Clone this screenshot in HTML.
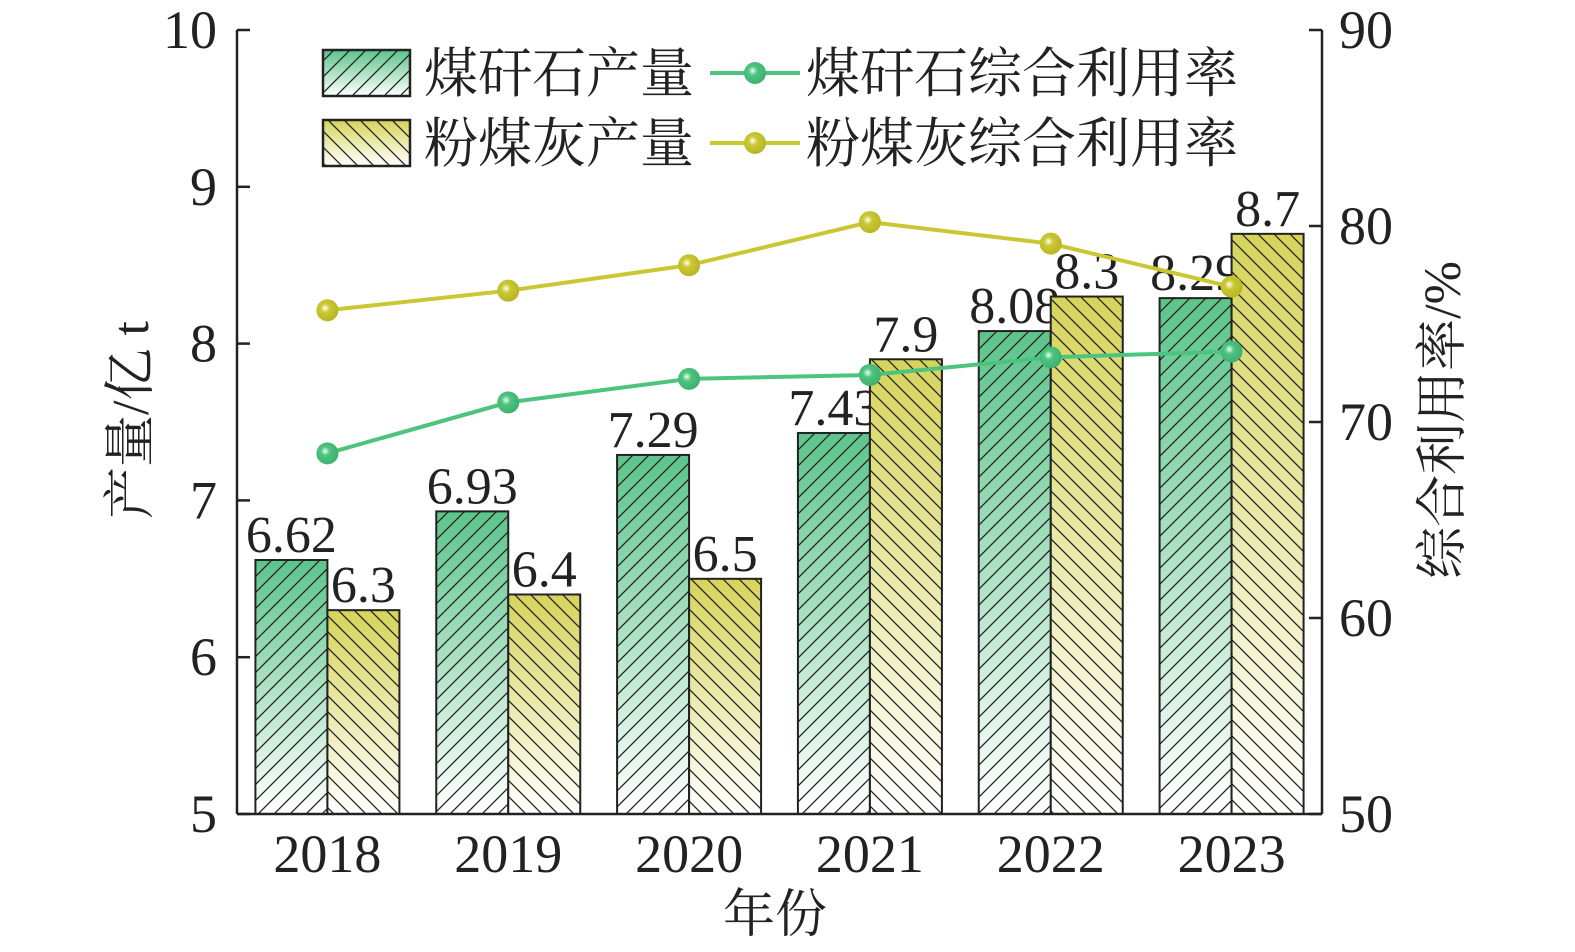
<!DOCTYPE html>
<html><head><meta charset="utf-8"><style>
body{margin:0;background:#fff}
svg text{font-family:"Liberation Serif","Noto Serif CJK SC",serif;fill:#222}
</style></head><body>
<svg id="c" width="1575" height="947" xmlns="http://www.w3.org/2000/svg">
<defs>
<linearGradient id="gG" x1="0" y1="0" x2="0" y2="1"><stop offset="0" stop-color="#5cc48a"/><stop offset="1" stop-color="#ffffff"/></linearGradient>
<linearGradient id="gY" x1="0" y1="0" x2="0" y2="1"><stop offset="0" stop-color="#d6d45a"/><stop offset="1" stop-color="#ffffff"/></linearGradient>
<pattern id="hF" width="16" height="16" patternUnits="userSpaceOnUse"><path d="M-4,4 L4,-4 M0,16 L16,0 M12,20 L20,12" stroke="#222" stroke-width="1.3"/></pattern>
<pattern id="hB" width="16" height="16" patternUnits="userSpaceOnUse"><path d="M-4,12 L4,20 M0,0 L16,16 M12,-4 L20,4" stroke="#222" stroke-width="1.3"/></pattern>
<radialGradient id="mG" cx="0.4" cy="0.4" r="0.6"><stop offset="0" stop-color="#e8fff0"/><stop offset="0.35" stop-color="#4cc47e"/><stop offset="1" stop-color="#3fb070"/></radialGradient>
<radialGradient id="mY" cx="0.4" cy="0.4" r="0.6"><stop offset="0" stop-color="#fffff0"/><stop offset="0.35" stop-color="#cac832"/><stop offset="1" stop-color="#b8b626"/></radialGradient>
</defs>
<g id="plot"></g>
</svg>
<script>
const years=["2018","2019","2020","2021","2022","2023"];
const gangueOut=[6.62,6.93,7.29,7.43,8.08,8.29];
const ashOut=[6.3,6.4,6.5,7.9,8.3,8.7];
const gangueRate=[68.4,71.0,72.2,72.4,73.3,73.6];
const ashRate=[75.7,76.7,78.0,80.2,79.1,76.9];
const leftTicks=[5,6,7,8,9,10];
const rightTicks=[50,60,70,80,90];

const NS="http://www.w3.org/2000/svg";
const L=237,R=1322,T=30,B=814;
const yL=v=>B-(v-5)/5*(B-T);
const yR=v=>B-(v-50)/40*(B-T);
const gw=(R-L)/years.length;
const xc=i=>L+gw*(i+0.5);
const bw=72;
const g=document.getElementById('plot');
function el(tag,attrs,parent){const e=document.createElementNS(NS,tag);for(const k in attrs)e.setAttribute(k,attrs[k]);(parent||g).appendChild(e);return e;}
function txt(s,attrs){const e=el('text',attrs);e.textContent=s;return e;}

years.forEach((y,i)=>{
  const x=xc(i);
  [[gangueOut[i],x-bw,'gG','hF','gangue'],[ashOut[i],x,'gY','hB','ash']].forEach(([v,x0,fg,hp,nm])=>{
    const yy=yL(v);
    const r1=el('rect',{x:x0,y:yy,width:bw,height:B-yy,fill:`url(#${fg})`});
    
    
    el('rect',{x:x0,y:yy,width:bw,height:B-yy,fill:`url(#${hp})`,stroke:'#222','stroke-width':2});
    const t=txt(String(v),{x:x0+bw/2,y:yy-8,'font-size':52,'text-anchor':'middle'});
    
    
  });
  const xl=txt(y,{x:x,y:872,'font-size':54,'text-anchor':'middle'});
  
  
});

[[gangueRate,'#4cc47e','mG','gangue-rate'],[ashRate,'#cac832','mY','ash-rate']].forEach(([arr,c,m,nm])=>{
  const pl=el('polyline',{points:arr.map((v,i)=>xc(i)+','+yR(v)).join(' '),fill:'none',stroke:c,'stroke-width':4});
  
  
  arr.forEach((v,i)=>{
    const p=el('circle',{cx:xc(i),cy:yR(v),r:11,fill:`url(#${m})`});
    
    
  });
});

el('line',{x1:L,y1:T,x2:L,y2:B,stroke:'#222','stroke-width':2.5});
el('line',{x1:R,y1:T,x2:R,y2:B,stroke:'#222','stroke-width':2.5});
el('line',{x1:L,y1:B,x2:R,y2:B,stroke:'#222','stroke-width':2.5});
leftTicks.forEach(v=>{
  el('line',{x1:L,y1:yL(v),x2:L+13,y2:yL(v),stroke:'#222','stroke-width':2.5});
  const t=txt(String(v),{x:L-20,y:yL(v)+18,'font-size':54,'text-anchor':'end'});
  
  
});
rightTicks.forEach(v=>{
  el('line',{x1:R,y1:yR(v),x2:R-13,y2:yR(v),stroke:'#222','stroke-width':2.5});
  const t=txt(String(v),{x:R+17,y:yR(v)+18,'font-size':54,'text-anchor':'start'});
  
  
});
const yt=txt('产量/亿 t',{x:0,y:0,'font-size':52,'text-anchor':'middle',transform:'translate(148,420) rotate(-90)'});


const yt2=txt('综合利用率/%',{x:0,y:0,'font-size':52,'text-anchor':'middle',transform:'translate(1460,420) rotate(-90)'});


const xt=txt('年份',{x:775,y:932,'font-size':52,'text-anchor':'middle'});



[[50,'gG','hF','煤矸石产量'],[120,'gY','hB','粉煤灰产量']].forEach(([y,f,h,s])=>{
  const r=el('rect',{x:323,y:y,width:87,height:46,fill:`url(#${f})`});
  
  
  el('rect',{x:323,y:y,width:87,height:46,fill:`url(#${h})`,stroke:'#222','stroke-width':2.5});
  const t=txt(s,{x:424,y:y+42,'font-size':54});
  
  
});
[[73,'#4cc47e','mG','煤矸石综合利用率'],[143,'#cac832','mY','粉煤灰综合利用率']].forEach(([y,c,m,s])=>{
  const l=el('line',{x1:710,y1:y,x2:800,y2:y,stroke:c,'stroke-width':4});
  
  
  el('circle',{cx:755,cy:y,r:11,fill:`url(#${m})`});
  const t=txt(s,{x:806,y:y+19,'font-size':54});
  
  
});
</script>
</body></html>
